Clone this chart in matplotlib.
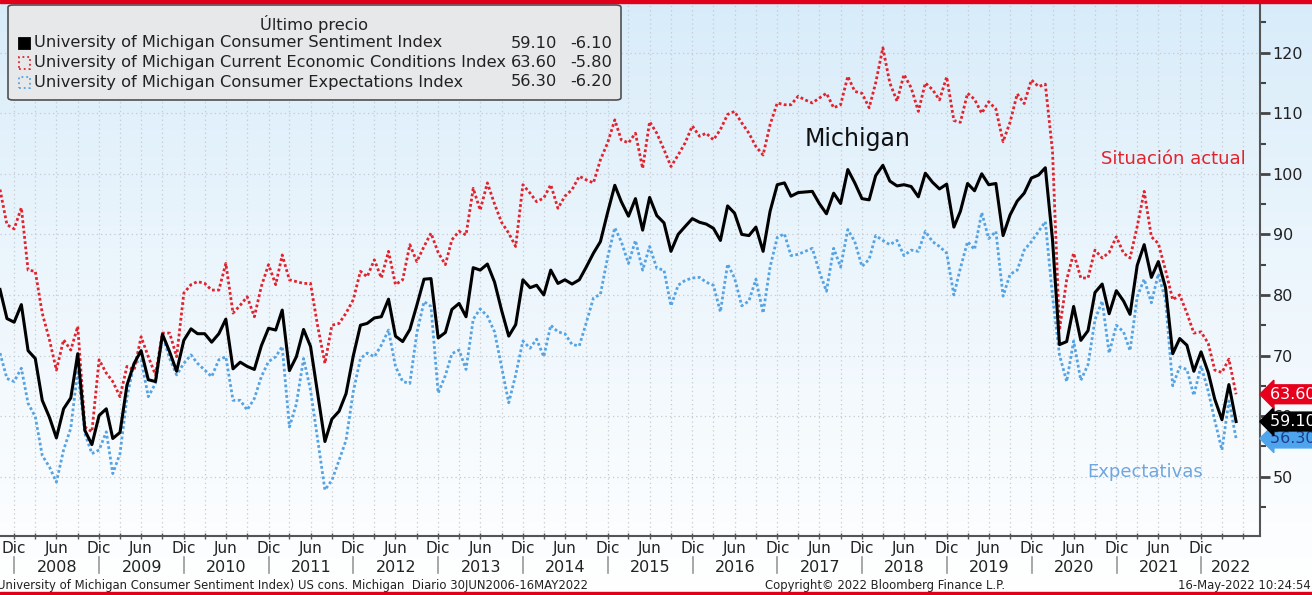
#!/usr/bin/env python3

import numpy as np
import pandas as pd
import matplotlib

matplotlib.use("Agg")
import matplotlib.pyplot as plt
import matplotlib.dates as mdates
from matplotlib.patches import FancyBboxPatch, Rectangle
from matplotlib.ticker import FixedLocator, FuncFormatter, MultipleLocator
from matplotlib.transforms import blended_transform_factory

# monthly readings, Oct 2007 .. May 2022
first_month = "2007-10-31"

sentiment = [
    80.9, 76.1, 75.5,
    78.4, 70.8, 69.5, 62.6, 59.8, 56.4, 61.2, 63.0, 70.3, 57.6, 55.3, 60.1,
    61.2, 56.3, 57.3, 65.1, 68.7, 70.8, 66.0, 65.7, 73.5, 70.6, 67.4, 72.5,
    74.4, 73.6, 73.6, 72.2, 73.6, 76.0, 67.8, 68.9, 68.2, 67.7, 71.6, 74.5,
    74.2, 77.5, 67.5, 69.8, 74.3, 71.5, 63.7, 55.8, 59.5, 60.8, 63.7, 69.9,
    75.0, 75.3, 76.2, 76.4, 79.3, 73.2, 72.3, 74.3, 78.3, 82.6, 82.7, 72.9,
    73.8, 77.6, 78.6, 76.4, 84.5, 84.1, 85.1, 82.1, 77.5, 73.2, 75.1, 82.5,
    81.2, 81.6, 80.0, 84.1, 81.9, 82.5, 81.8, 82.5, 84.6, 86.9, 88.8, 93.6,
    98.1, 95.4, 93.0, 95.9, 90.7, 96.1, 93.1, 91.9, 87.2, 90.0, 91.3, 92.6,
    92.0, 91.7, 91.0, 89.0, 94.7, 93.5, 90.0, 89.8, 91.2, 87.2, 93.8, 98.2,
    98.5, 96.3, 96.9, 97.0, 97.1, 95.1, 93.4, 96.8, 95.1, 100.7, 98.5, 95.9,
    95.7, 99.7, 101.4, 98.8, 98.0, 98.2, 97.9, 96.2, 100.1, 98.6, 97.5, 98.3,
    91.2, 93.8, 98.4, 97.2, 100.0, 98.2, 98.4, 89.8, 93.2, 95.5, 96.8, 99.3,
    99.8, 101.0, 89.1, 71.8, 72.3, 78.1, 72.5, 74.1, 80.4, 81.8, 76.9, 80.7,
    79.0, 76.8, 84.9, 88.3, 82.9, 85.5, 81.2, 70.3, 72.8, 71.7, 67.4, 70.6,
    67.2, 62.8, 59.4, 65.2, 59.1,
]

current = [
    97.4, 91.6, 90.9,
    94.4, 84.1, 83.9, 77.0, 72.6, 67.6, 72.6, 70.9, 74.8, 58.2, 57.4, 69.3,
    67.1, 65.7, 63.2, 68.2, 67.6, 73.1, 69.8, 66.8, 73.7, 73.7, 69.8, 80.3,
    81.7, 82.2, 81.9, 80.8, 80.8, 85.2, 77.0, 78.3, 79.7, 76.4, 81.4, 85.0,
    81.7, 86.6, 82.5, 82.2, 81.9, 81.9, 74.8, 68.7, 75.0, 75.3, 77.0, 79.2,
    83.9, 83.0, 85.8, 82.8, 87.2, 81.7, 82.5, 88.3, 85.5, 88.0, 90.2, 87.0,
    85.0, 89.1, 90.5, 89.9, 97.6, 94.0, 98.5, 95.0, 92.0, 90.2, 88.0, 98.2,
    96.8, 95.4, 96.0, 98.2, 94.3, 96.3, 97.4, 99.6, 99.0, 98.5, 102.3, 105.1,
    108.9, 105.6, 105.1, 106.7, 100.9, 108.6, 106.7, 104.0, 101.2, 103.1, 105.1, 107.9,
    106.2, 106.7, 105.6, 107.3, 109.8, 110.3, 108.4, 106.7, 104.5, 103.1, 108.1, 111.7,
    111.4, 111.4, 112.8, 112.2, 111.7, 112.5, 113.3, 110.9, 111.4, 116.1, 113.6, 113.3,
    110.9, 115.0, 120.8, 115.0, 112.0, 116.4, 114.2, 110.3, 115.0, 113.9, 112.2, 116.0,
    108.8, 108.5, 113.3, 112.3, 110.0, 111.9, 110.7, 105.3, 108.5, 113.2, 111.6, 115.5,
    114.4, 114.8, 103.7, 74.2, 82.5, 86.9, 82.8, 82.8, 87.4, 86.1, 87.0, 89.6,
    86.9, 86.1, 91.3, 97.1, 89.6, 88.5, 84.1, 79.2, 80.0, 77.0, 73.7, 73.9,
    72.0, 67.6, 67.2, 69.4, 63.6,
]

expectations = [
    70.4, 66.2, 65.7,
    67.9, 62.1, 59.9, 53.5, 51.6, 49.1, 54.4, 58.0, 67.6, 57.1, 53.8, 54.4,
    57.4, 50.5, 53.8, 63.1, 68.7, 69.3, 63.2, 65.4, 73.4, 69.5, 66.8, 68.7,
    70.1, 68.7, 67.6, 66.5, 69.3, 69.8, 62.6, 62.6, 61.0, 62.9, 66.5, 69.0,
    69.8, 71.5, 58.2, 62.0, 69.5, 64.3, 56.0, 47.8, 49.4, 52.7, 56.0, 64.0,
    69.5, 70.4, 69.8, 71.7, 74.2, 68.2, 65.7, 65.4, 73.7, 78.9, 78.1, 63.8,
    66.7, 70.3, 70.9, 67.7, 76.0, 77.7, 76.5, 73.9, 68.1, 62.2, 66.8, 72.4,
    71.2, 72.7, 69.8, 75.0, 73.9, 73.6, 71.8, 71.6, 75.4, 79.5, 80.1, 86.2,
    91.1, 88.8, 85.2, 89.0, 84.1, 88.0, 84.4, 84.1, 78.2, 81.6, 82.4, 82.8,
    82.9, 82.1, 81.6, 77.2, 85.1, 82.8, 78.2, 79.0, 82.6, 77.0, 84.6, 89.5,
    90.1, 86.5, 86.7, 87.2, 87.7, 83.9, 80.6, 87.7, 84.6, 90.8, 88.8, 84.7,
    85.9, 89.8, 89.0, 88.3, 89.0, 86.5, 87.4, 87.2, 90.5, 88.8, 88.0, 86.9,
    80.0, 84.4, 88.8, 87.5, 93.6, 89.3, 90.5, 79.8, 83.4, 84.1, 87.4, 88.8,
    90.5, 92.1, 79.8, 70.1, 65.7, 72.4, 65.9, 68.5, 75.9, 79.0, 70.4, 75.0,
    73.9, 70.8, 79.7, 82.6, 78.7, 83.5, 79.1, 65.0, 68.1, 67.7, 63.4, 68.3,
    64.1, 59.3, 54.4, 62.5, 56.3,
]

names = [
    "University of Michigan Consumer Sentiment Index",
    "University of Michigan Current Economic Conditions Index",
    "University of Michigan Consumer Expectations Index",
]
years = list(range(2008, 2023))
month_names = {12: "Dic", 6: "Jun"}

W, H = 1312, 595
RED = "#e1232d"
BLUE = "#55a3e2"


def fx(px):
    return px / W


def fy(py):
    return 1 - py / H


def main():
    months = pd.date_range(first_month, periods=len(sentiment), freq="ME")
    x_end = pd.Timestamp("2022-09-11")

    fig = plt.figure(figsize=(W / 100, H / 100), dpi=100)

    # light blue to white backdrop
    bg = fig.add_axes([0, 0, 1, 1], zorder=-10)
    t = np.linspace(0, 1, 256)[:, None]
    top = np.array([0.84, 0.922, 0.978])
    grad = top + (1 - top) * t ** 0.8
    bg.imshow(grad.reshape(256, 1, 3), aspect="auto", extent=[0, 1, 0, 1])
    bg.axis("off")

    ax = fig.add_axes([0, fy(536), fx(1260), (536 - 3) / H])
    ax.patch.set_alpha(0)

    ax.plot(months, expectations, color=BLUE, lw=2.0, ls=(0, (1, 0.9)))
    ax.plot(months, current, color=RED, lw=2.0, ls=(0, (1, 0.9)))
    ax.plot(months, sentiment, color="black", lw=2.2)

    ax.set_xlim(months[0], x_end)
    ax.set_ylim(40.2, 128.2)

    # y axis on the right
    ax.yaxis.tick_right()
    ax.set_yticks(range(50, 121, 10))
    ax.yaxis.set_minor_locator(MultipleLocator(5))
    ax.tick_params(axis="y", which="major", direction="out", length=7, width=2,
                   color="#444", labelsize=11.5, labelcolor="#222", pad=2)
    ax.tick_params(axis="y", which="minor", direction="out", length=4, width=1.5,
                   color="#444")

    # x axis: quarter ends, labels only on Dec / Jun up to the last reading
    quarters = pd.date_range("2007-12-31", x_end, freq="QE-DEC")
    ax.xaxis.set_major_locator(FixedLocator(mdates.date2num(quarters)))

    def month_label(v, pos):
        d = mdates.num2date(v).replace(tzinfo=None)
        if d > months[-1]:
            return ""
        return month_names.get(d.month, "")

    ax.xaxis.set_major_formatter(FuncFormatter(month_label))
    ax.tick_params(axis="x", direction="inout", length=5, width=1, color="#555",
                   labelsize=11, labelcolor="#222", pad=1)

    ax.grid(True, which="major", color="#c4cbd2", lw=0.9, ls=(0, (1, 2.5)))
    for side in ("left", "top"):
        ax.spines[side].set_visible(False)
    for side in ("bottom", "right"):
        ax.spines[side].set_color("#555")
        ax.spines[side].set_linewidth(1.5)

    # year row with separators
    tr = blended_transform_factory(ax.transData, ax.transAxes)
    for yr in years:
        start = pd.Timestamp(yr, 1, 1)
        end = min(pd.Timestamp(yr + 1, 1, 1), x_end)
        mid = start + (end - start) / 2
        ax.text(mid, -0.059, str(yr), transform=tr, ha="center", va="center",
                fontsize=11.5, color="#222", clip_on=False)
        ax.plot([start, start], [-0.040, -0.070], transform=tr, color="#999",
                lw=1.2, clip_on=False)

    # series annotations
    def axpos(px, py):
        return px / 1260, (536 - py) / 533

    ax.text(*axpos(805, 139), "Michigan", transform=ax.transAxes, fontsize=17,
            color="#111", va="center")
    ax.text(*axpos(1101, 159), "Situación actual", transform=ax.transAxes,
            fontsize=13, color=RED, va="center")
    ax.text(*axpos(1087, 472), "Expectativas", transform=ax.transAxes,
            fontsize=13, color="#6fa6e0", va="center")

    # last value tags
    tags = [
        (expectations[-1], "#4ea5ee", "#1c3f8c"),
        (sentiment[-1], "black", "white"),
        (current[-1], "#e6001c", "white"),
    ]
    for val, fc, tc in tags:
        ax.annotate(f"{val:.2f}   ", xy=(1.0, val), xycoords=("axes fraction", "data"),
                    xytext=(7, 0), textcoords="offset points", ha="left",
                    va="center", fontsize=11.5, color=tc, annotation_clip=False,
                    bbox=dict(boxstyle="larrow,pad=0.12", fc=fc, ec=fc))

    # legend box
    fig.add_artist(FancyBboxPatch((fx(8), fy(100)), fx(613), 95 / H,
                                  boxstyle="round,pad=0,rounding_size=0.004",
                                  transform=fig.transFigure, fc="#e6e8ea",
                                  ec="#505050", lw=1.2, zorder=5))
    fig.text(fx(314), fy(24), "Último precio", ha="center", va="center",
             fontsize=11.7, color="#222", zorder=6)
    series = [sentiment, current, expectations]
    styles = [("black", "black", "-"), ("none", RED, ":"), ("none", BLUE, ":")]
    for i, (name, vals, (face, edge, ls)) in enumerate(zip(names, series, styles)):
        yc = 43 + i * 19.5
        fig.add_artist(Rectangle((fx(19), fy(yc + 6)), fx(11), 11 / H,
                                 transform=fig.transFigure, fc=face, ec=edge,
                                 ls=ls, lw=1.3, zorder=6))
        fig.text(fx(34), fy(yc), name, va="center", fontsize=11.7, color="#222",
                 zorder=6)
        fig.text(fx(557), fy(yc), f"{vals[-1]:.2f}", ha="right", va="center",
                 fontsize=11.7, color="#222", zorder=6)
        fig.text(fx(612), fy(yc), f"{vals[-1] - vals[-2]:.2f}", ha="right",
                 va="center", fontsize=11.7, color="#222", zorder=6)

    # footer
    fig.text(fx(-3), fy(585),
             "University of Michigan Consumer Sentiment Index) US cons. Michigan  "
             "Diario 30JUN2006-16MAY2022", va="center", fontsize=8.4, color="#222")
    fig.text(fx(885), fy(585), "Copyright\u00a9 2022 Bloomberg Finance L.P.",
             ha="center", va="center", fontsize=8.4, color="#222")
    fig.text(fx(1311), fy(585), "16-May-2022 10:24:54", ha="right", va="center",
             fontsize=8.4, color="#222")

    # red frame lines top and bottom
    fig.add_artist(Rectangle((0, fy(3)), 1, 3 / H, transform=fig.transFigure,
                             color="#e0001a", zorder=7))
    fig.add_artist(Rectangle((0, 0), 1, 3 / H, transform=fig.transFigure,
                             color="#e0001a", zorder=7))

    fig.savefig("out.png", dpi=100)


if __name__ == "__main__":
    main()
